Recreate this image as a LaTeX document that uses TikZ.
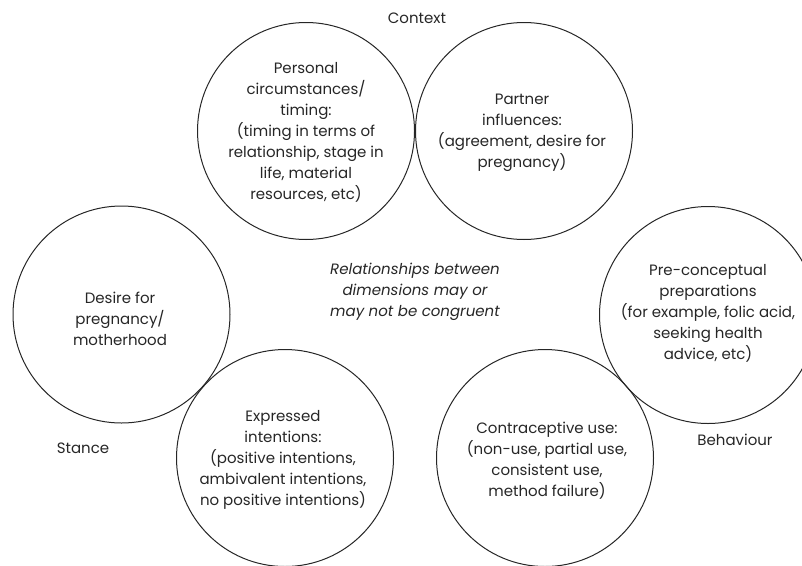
\documentclass[tikz,border=0pt]{standalone}
\usepackage{fontspec}
\setmainfont{Poppins}
\begin{document}
\begin{tikzpicture}[x=1pt,y=-1pt,
  circ/.style={draw=black!85,line width=1pt,circle,minimum size=217pt,inner sep=0pt},
  txt/.style={align=center,font=\fontsize{15}{21}\selectfont,text=black!85,inner sep=0pt},
  lbl/.style={font=\fontsize{15}{21}\selectfont,text=black!85,inner sep=0pt}]
\useasboundingbox (0,0) rectangle (802,565);
\begin{scope}
\clip (0,0) rectangle (802,565);
\node[circ] (pers) at (306,131) {};
\node[circ] (part) at (524,131) {};
\node[circ] (des) at (121.5,314.5) {};
\node[circ] (expr) at (285,458) {};
\node[circ] (contr) at (545,458) {};
\node[circ] (pre) at (708,315) {};
\end{scope}
\node[txt] (perst) at (306,132) {Personal\\circumstances/\\timing:\\(timing in terms of\\relationship, stage in\\life, material\\resources, etc)};
\node[txt] (partt) at (522,133) {Partner\\influences:\\(agreement, desire for\\pregnancy)};
\node[txt] (dest) at (120,319) {Desire for\\pregnancy/\\motherhood};
\node[txt] (exprt) at (283,460) {Expressed\\intentions:\\(positive intentions,\\ambivalent intentions,\\no positive intentions)};
\node[txt] (contrt) at (547,461) {Contraceptive use:\\(non-use, partial use,\\consistent use,\\method failure)};
\node[txt] (pret) at (708,313) {Pre-conceptual\\preparations\\(for example, folic acid,\\seeking health\\advice, etc)};
\node[txt,font=\fontsize{15}{21}\itshape\selectfont] (rel) at (415,292) {Relationships between\\dimensions may or\\may not be congruent};
\node[lbl] (context) at (417,18) {Context};
\node[lbl] (stance) at (83,448) {Stance};
\node[lbl] (behav) at (735,440) {Behaviour};
\end{tikzpicture}
\end{document}
